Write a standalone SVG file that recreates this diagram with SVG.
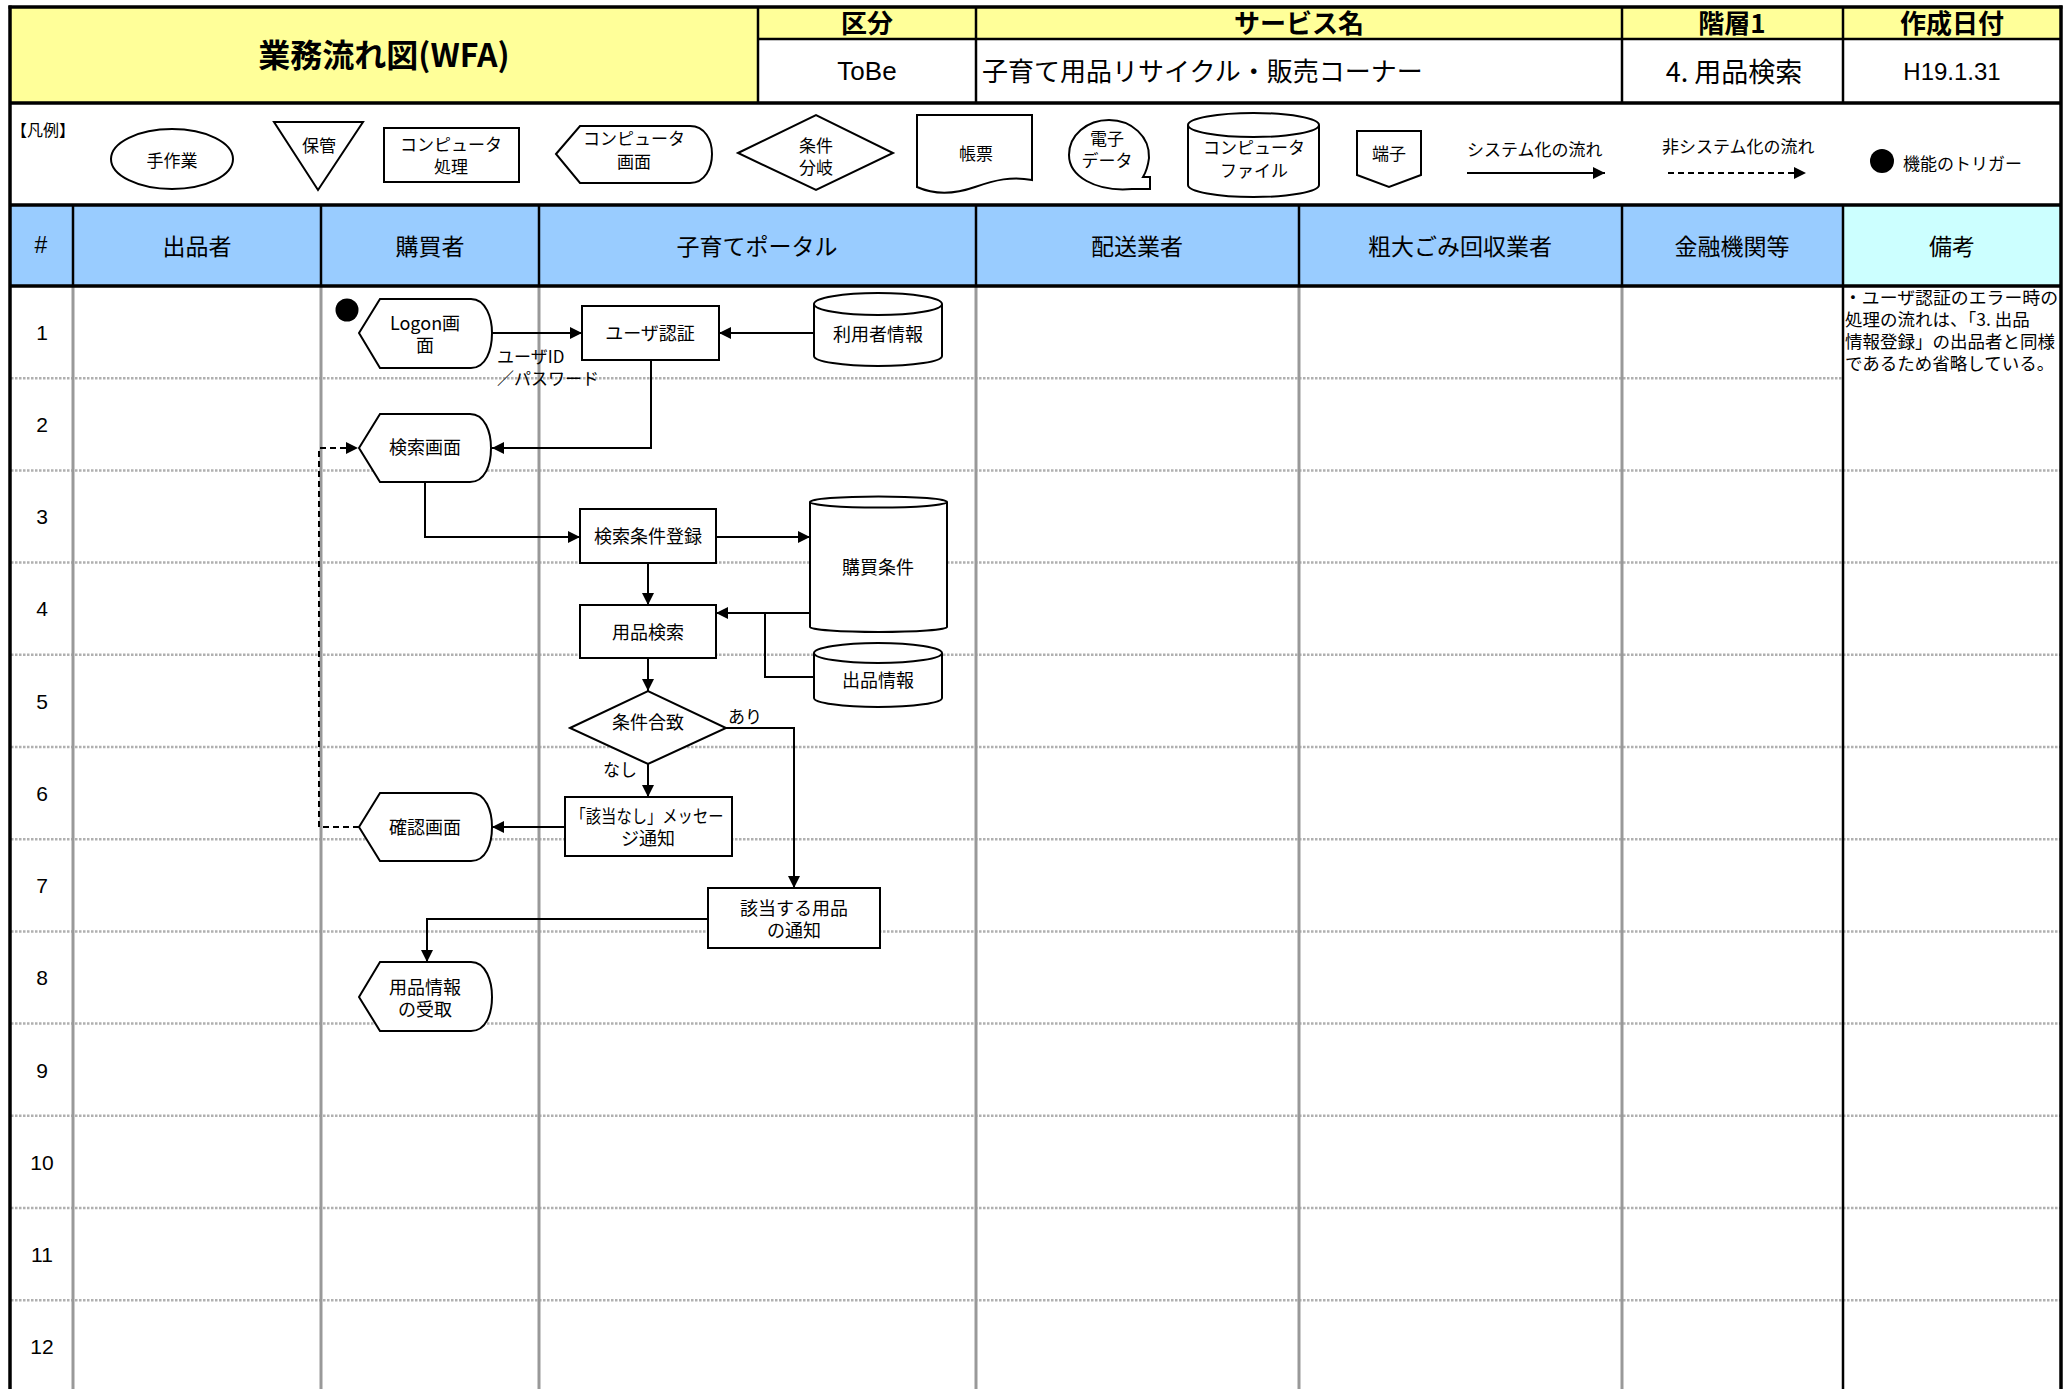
<svg xmlns="http://www.w3.org/2000/svg" width="2071" height="1389" viewBox="0 0 2071 1389">
<style>
.jp{font-family:"Noto Sans CJK JP","Liberation Sans",sans-serif;fill:#000;}
.lat{font-family:"Liberation Sans","Noto Sans CJK JP",sans-serif;fill:#000;}
.c{text-anchor:middle;dominant-baseline:central;}
.l{text-anchor:start;dominant-baseline:central;}
.hb{font-size:26px;font-weight:bold;}
.hv{font-size:26px;}
.colh{font-size:23px;}
.lg{font-size:17px;}
.nd{font-size:18px;}
.lb{font-size:17px;}
.rm{font-size:17.5px;}
.num{font-size:21px;}
.shape{fill:#fff;stroke:#000;stroke-width:2;}
.thick{stroke:#000;stroke-width:3.5;fill:none;}
.blk{stroke:#000;stroke-width:2.5;fill:none;}
.gray{stroke:#999;stroke-width:3;fill:none;}
.dot{stroke:#b0b0b0;stroke-width:2.5;stroke-dasharray:2.5 1.5;fill:none;}
.flow{stroke:#000;stroke-width:2;fill:none;}
.dash{stroke:#000;stroke-width:2;fill:none;stroke-dasharray:6 4;}
</style>
<defs>
<marker id="arr" markerUnits="userSpaceOnUse" viewBox="0 0 10 10" refX="10" refY="5" markerWidth="13" markerHeight="12" orient="auto">
<path d="M0,0 L10,5 L0,10 Z" fill="#000"/>
</marker>
</defs>
<rect x="0" y="0" width="2071" height="1389" fill="#fff"/>

<g id="table">
<rect x="10" y="7" width="748" height="96" fill="#ffff99"/>
<rect x="758" y="7" width="1303" height="32" fill="#ffff99"/>
<rect x="10" y="205" width="1833" height="81" fill="#99ccff"/>
<rect x="1843" y="205" width="218" height="81" fill="#ccffff"/>
<g id="rowlines">
<line class="dot" x1="11" y1="378.2" x2="1842" y2="378.2"/>
<line class="dot" x1="11" y1="470.4" x2="2060" y2="470.4"/>
<line class="dot" x1="11" y1="562.6" x2="2060" y2="562.6"/>
<line class="dot" x1="11" y1="654.8" x2="2060" y2="654.8"/>
<line class="dot" x1="11" y1="747" x2="2060" y2="747"/>
<line class="dot" x1="11" y1="839.2" x2="2060" y2="839.2"/>
<line class="dot" x1="11" y1="931.4" x2="2060" y2="931.4"/>
<line class="dot" x1="11" y1="1023.6" x2="2060" y2="1023.6"/>
<line class="dot" x1="11" y1="1115.8" x2="2060" y2="1115.8"/>
<line class="dot" x1="11" y1="1208" x2="2060" y2="1208"/>
<line class="dot" x1="11" y1="1300.2" x2="2060" y2="1300.2"/>
</g>
<g id="collines">
<line class="gray" x1="73" y1="286" x2="73" y2="1389"/>
<line class="gray" x1="321" y1="286" x2="321" y2="1389"/>
<line class="gray" x1="539" y1="286" x2="539" y2="1389"/>
<line class="gray" x1="976" y1="286" x2="976" y2="1389"/>
<line class="gray" x1="1299" y1="286" x2="1299" y2="1389"/>
<line class="gray" x1="1622" y1="286" x2="1622" y2="1389"/>
<line class="blk" x1="1843" y1="286" x2="1843" y2="1389" stroke-width="3"/>
<line class="blk" x1="73" y1="205" x2="73" y2="286" stroke-width="3"/>
<line class="blk" x1="321" y1="205" x2="321" y2="286" stroke-width="3"/>
<line class="blk" x1="539" y1="205" x2="539" y2="286" stroke-width="3"/>
<line class="blk" x1="976" y1="205" x2="976" y2="286" stroke-width="3"/>
<line class="blk" x1="1299" y1="205" x2="1299" y2="286" stroke-width="3"/>
<line class="blk" x1="1622" y1="205" x2="1622" y2="286" stroke-width="3"/>
<line class="blk" x1="1843" y1="205" x2="1843" y2="286" stroke-width="3"/>
<line class="blk" x1="758" y1="7" x2="758" y2="103"/>
<line class="blk" x1="976" y1="7" x2="976" y2="103"/>
<line class="blk" x1="1622" y1="7" x2="1622" y2="103"/>
<line class="blk" x1="1843" y1="7" x2="1843" y2="103"/>
<line class="blk" x1="758" y1="39" x2="2061" y2="39"/>
</g>
<g id="borders">
<line class="thick" x1="8.5" y1="7" x2="2062.5" y2="7"/>
<line class="thick" x1="10" y1="5.5" x2="10" y2="1389"/>
<line class="thick" x1="2061" y1="5.5" x2="2061" y2="1389"/>
<line class="thick" x1="10" y1="103" x2="2061" y2="103"/>
<line class="thick" x1="10" y1="205" x2="2061" y2="205"/>
<line class="thick" x1="10" y1="286" x2="2061" y2="286"/>
</g>
<g id="header-text">
<text class="jp c" x="384" y="53" font-size="32" font-weight="bold">業務流れ図(WFA)</text>
<text class="jp c hb" x="867" y="21">区分</text>
<text class="jp c hb" x="1299" y="21">サービス名</text>
<text class="jp c hb" x="1732" y="21">階層1</text>
<text class="jp c hb" x="1952" y="21">作成日付</text>
<text class="lat c" x="867" y="71" font-size="26">ToBe</text>
<text class="jp l hv" x="982" y="69">子育て用品リサイクル・販売コーナー</text>
<text class="jp c" x="1734" y="70" font-size="27">4. 用品検索</text>
<text class="lat c" x="1952" y="71" font-size="24">H19.1.31</text>
</g>
<g id="col-headers">
<text class="lat c colh" x="41" y="245">#</text>
<text class="jp c colh" x="197" y="245">出品者</text>
<text class="jp c colh" x="430" y="245">購買者</text>
<text class="jp c colh" x="757" y="245">子育てポータル</text>
<text class="jp c colh" x="1137" y="245">配送業者</text>
<text class="jp c colh" x="1460" y="245">粗大ごみ回収業者</text>
<text class="jp c colh" x="1732" y="245">金融機関等</text>
<text class="jp c colh" x="1952" y="245">備考</text>
</g>
<g id="row-numbers">
<text class="lat c num" x="42" y="332">1</text>
<text class="lat c num" x="42" y="424">2</text>
<text class="lat c num" x="42" y="516">3</text>
<text class="lat c num" x="42" y="608">4</text>
<text class="lat c num" x="42" y="701">5</text>
<text class="lat c num" x="42" y="793">6</text>
<text class="lat c num" x="42" y="885">7</text>
<text class="lat c num" x="42" y="977">8</text>
<text class="lat c num" x="42" y="1070">9</text>
<text class="lat c num" x="42" y="1162">10</text>
<text class="lat c num" x="42" y="1254">11</text>
<text class="lat c num" x="42" y="1346">12</text>
</g>
<g id="remarks">
<text class="jp l rm" x="1844" y="296" textLength="214" lengthAdjust="spacingAndGlyphs">・ユーザ認証のエラー時の</text>
<text class="jp l rm" x="1845" y="318">処理の流れは、「3. 出品</text>
<text class="jp l rm" x="1845" y="340">情報登録」の出品者と同様</text>
<text class="jp l rm" x="1845" y="362">であるため省略している。</text>
</g>
</g>

<g id="legend">
<text class="jp l" x="11" y="129" font-size="16">【凡例】</text>
<g id="lg-manual"><ellipse class="shape" cx="172" cy="159" rx="61" ry="30"/><text class="jp c lg" x="172" y="159">手作業</text></g>
<g id="lg-storage"><path class="shape" d="M274,122 L363,122 L318,190 Z"/><text class="jp c lg" x="319" y="144">保管</text></g>
<g id="lg-process"><rect class="shape" x="384" y="128" width="135" height="54"/><text class="jp c lg" x="451" y="143">コンピュータ</text><text class="jp c lg" x="451" y="165">処理</text></g>
<g id="lg-display"><path class="shape" d="M556,154 L580,126 L690,126 C705,126 712,140 712,154 C712,168 705,183 690,183 L580,183 Z"/><text class="jp c lg" x="634" y="137">コンピュータ</text><text class="jp c lg" x="634" y="160">画面</text></g>
<g id="lg-decision"><path class="shape" d="M738,153 L816,115 L893,153 L816,190 Z"/><text class="jp c lg" x="816" y="144">条件</text><text class="jp c lg" x="816" y="166">分岐</text></g>
<g id="lg-document"><path class="shape" d="M917,115 H1032 V180 C1012,176 995,180 975,187 C955,194 935,195 917,187 Z"/><text class="jp c lg" x="976" y="152">帳票</text></g>
<g id="lg-edata"><path class="shape" d="M1132,189 C1095,192 1069,176 1069,155 C1069,135 1087,120 1109,120 C1132,120 1150,137 1149,158 C1148,166 1146,172 1143,177 L1150,177 L1150,189 Z"/><text class="jp c lg" x="1107" y="137">電子</text><text class="jp c lg" x="1107" y="159">データ</text></g>
<g id="lg-file"><path class="shape" d="M1188,125 A65.5,12 0 0 1 1319,125 L1319,185 A65.5,12 0 0 1 1188,185 Z"/><path class="shape" fill="none" d="M1188,125 A65.5,12 0 0 0 1319,125"/><text class="jp c lg" x="1254" y="146">コンピュータ</text><text class="jp c lg" x="1254" y="169">ファイル</text></g>
<g id="lg-terminal"><path class="shape" d="M1357,131 H1421 V175 L1389,187 L1357,175 Z"/><text class="jp c lg" x="1389" y="152">端子</text></g>
<g id="lg-sysflow"><text class="jp l lg" x="1467" y="148">システム化の流れ</text><line class="flow" x1="1467" y1="173" x2="1605" y2="173" marker-end="url(#arr)"/></g>
<g id="lg-nonsysflow"><text class="jp l lg" x="1662" y="145">非システム化の流れ</text><line class="dash" x1="1668" y1="173" x2="1806" y2="173" stroke-dasharray="7 4" marker-end="url(#arr)"/></g>
<g id="lg-trigger"><circle cx="1882" cy="161" r="12" fill="#000"/><text class="jp l lg" x="1903" y="162">機能のトリガー</text></g>
</g>

<g id="connectors">
<path class="flow" d="M492,333 L582,333" marker-end="url(#arr)"/>
<path class="flow" d="M814,333 L719,333" marker-end="url(#arr)"/>
<path class="flow" d="M651,360 L651,448 L492,448" marker-end="url(#arr)"/>
<path class="flow" d="M425,482 L425,537 L580,537" marker-end="url(#arr)"/>
<path class="flow" d="M716,537 L810,537" marker-end="url(#arr)"/>
<path class="flow" d="M648,563 L648,605" marker-end="url(#arr)"/>
<path class="flow" d="M810,613 L716,613" marker-end="url(#arr)"/>
<path class="flow" d="M814,677 L765,677 L765,613"/>
<path class="flow" d="M648,658 L648,691" marker-end="url(#arr)"/>
<path class="flow" d="M726,728 L794,728 L794,888" marker-end="url(#arr)"/>
<path class="flow" d="M648,764 L648,797" marker-end="url(#arr)"/>
<path class="flow" d="M565,827 L492,827" marker-end="url(#arr)"/>
<path class="dash" d="M359,827 L319,827 L319,448 L358,448" marker-end="url(#arr)"/>
<path class="flow" d="M708,919 L427,919 L427,962" marker-end="url(#arr)"/>
<text class="jp l lb" x="497" y="355">ユーザID</text>
<text class="jp l lb" x="497" y="377">／パスワード</text>
<text class="jp l lb" x="728" y="715">あり</text>
<text class="jp l lb" x="603" y="768">なし</text>
</g>

<g id="trigger"><circle cx="347" cy="310" r="11.5" fill="#000"/></g>
<g id="logon"><path class="shape" d="M359,333 L380,299 L471,299 C486,299 492,318 492,333 C492,350 486,368 471,368 L380,368 Z"/><text class="jp c nd" x="425" y="322">Logon画</text><text class="jp c nd" x="425" y="344">面</text></g>
<g id="auth"><rect class="shape" x="582" y="306" width="137" height="54"/><text class="jp c nd" x="650" y="332">ユーザ認証</text></g>
<g id="userinfo"><path class="shape" d="M814,304 A64,11 0 0 1 942,304 L942,356 A64,10 0 0 1 814,356 Z"/><path class="shape" fill="none" d="M814,304 A64,11 0 0 0 942,304"/><text class="jp c nd" x="878" y="333">利用者情報</text></g>
<g id="search-screen"><path class="shape" d="M359,448 L380,414 L470,414 C485,414 491,432 491,448 C491,465 485,482 470,482 L380,482 Z"/><text class="jp c nd" x="425" y="446">検索画面</text></g>
<g id="cond-reg"><rect class="shape" x="580" y="509" width="136" height="54"/><text class="jp c nd" x="648" y="535">検索条件登録</text></g>
<g id="buy-cond"><path class="shape" d="M810,502 A68.5,5.5 0 0 1 947,502 L947,627 A68.5,5 0 0 1 810,627 Z"/><path class="shape" fill="none" d="M810,502 A68.5,5.5 0 0 0 947,502"/><text class="jp c nd" x="878" y="566">購買条件</text></g>
<g id="item-search"><rect class="shape" x="580" y="605" width="136" height="53"/><text class="jp c nd" x="648" y="631">用品検索</text></g>
<g id="listing-info"><path class="shape" d="M814,653 A64,10 0 0 1 942,653 L942,698 A64,9 0 0 1 814,698 Z"/><path class="shape" fill="none" d="M814,653 A64,10 0 0 0 942,653"/><text class="jp c nd" x="878" y="679">出品情報</text></g>
<g id="match"><path class="shape" d="M570,728 L648,691 L726,728 L648,764 Z"/><text class="jp c nd" x="648" y="721">条件合致</text></g>
<g id="nomatch-msg"><rect class="shape" x="565" y="797" width="167" height="59"/><text class="jp c nd" x="647" y="815" textLength="153" lengthAdjust="spacingAndGlyphs">「該当なし」メッセー</text><text class="jp c nd" x="648" y="837">ジ通知</text></g>
<g id="confirm-screen"><path class="shape" d="M359,827 L380,793 L471,793 C486,793 492,811 492,827 C492,844 486,861 471,861 L380,861 Z"/><text class="jp c nd" x="425" y="826">確認画面</text></g>
<g id="match-notice"><rect class="shape" x="708" y="888" width="172" height="60"/><text class="jp c nd" x="794" y="907">該当する用品</text><text class="jp c nd" x="794" y="929">の通知</text></g>
<g id="receive"><path class="shape" d="M359,997 L380,962 L471,962 C486,962 492,981 492,997 C492,1014 486,1031 471,1031 L380,1031 Z"/><text class="jp c nd" x="425" y="986">用品情報</text><text class="jp c nd" x="425" y="1008">の受取</text></g>
</svg>
